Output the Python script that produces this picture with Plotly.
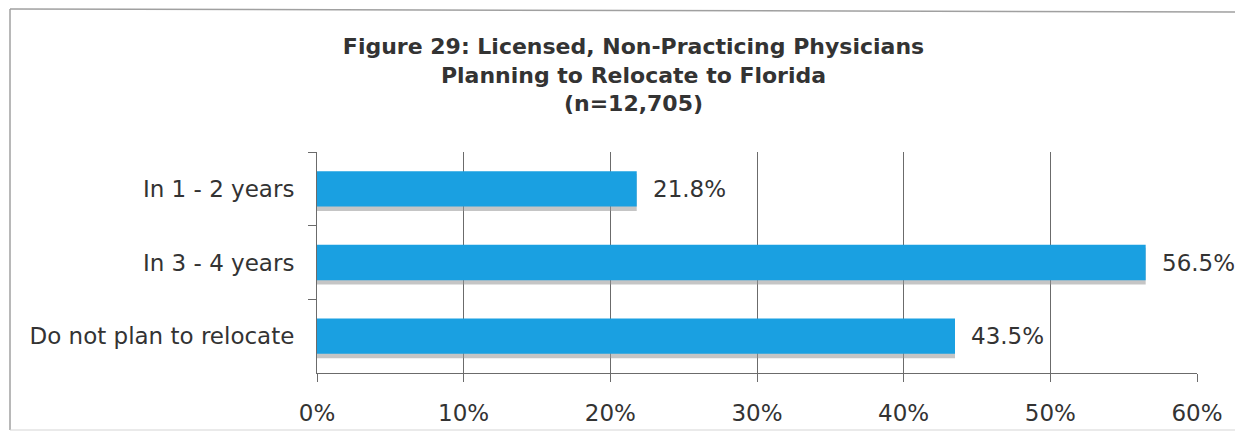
import plotly.graph_objects as go

categories = ["In 1 - 2 years", "In 3 - 4 years", "Do not plan to relocate"]
values = [21.8, 56.5, 43.5]
value_labels = ["21.8%", "56.5%", "43.5%"]
x_tick_vals = [0, 10, 20, 30, 40, 50, 60]
x_tick_text = ["0%", "10%", "20%", "30%", "40%", "50%", "60%"]
title_lines = ["Figure 29: Licensed, Non-Practicing Physicians",
               "Planning to Relocate to Florida", "(n=12,705)"]

BAR = "#1AA0E1"
TXT = "#333333"
GRID = "#6b6b6b"
FONT = "DejaVu Sans, Arial"

# figure area (page body adds an 8px offset; right/bottom overflow is clipped)
W, H = 1243, 425
L, T = 309, 144
PW, PH = 880, 221
R, B = W - L - PW, H - T - PH


def px_x(p):
    return (p - L) / PW


def px_y(p):
    return 1 - (p - T) / PH


fig = go.Figure()
# soft shadow beneath bars
fig.add_trace(go.Bar(
    y=categories, x=values, orientation="h",
    marker=dict(color="rgba(150,150,150,0.55)", line=dict(width=0)),
    width=0.5, offset=-0.2, hoverinfo="skip", showlegend=False,
))
fig.add_trace(go.Bar(
    y=categories, x=values, orientation="h",
    marker=dict(color=BAR, line=dict(width=0)),
    width=0.48, offset=-0.24, showlegend=False,
))

annotations = [
    dict(x=v, y=c, xref="x", yref="y", text=t, showarrow=False,
         xanchor="left", yanchor="middle", xshift=14,
         font=dict(family=FONT, size=23, color=TXT))
    for c, v, t in zip(categories, values, value_labels)
]

border = dict(color="#a0a0a0", width=1.5)
shapes = [
    dict(type="line", xref="paper", yref="paper", x0=px_x(2), x1=px_x(2),
         y0=px_y(422), y1=px_y(1), line=border),
    dict(type="line", xref="paper", yref="paper", x0=px_x(2), x1=px_x(W),
         y0=px_y(1), y1=px_y(4), line=border),
    dict(type="line", xref="paper", yref="paper", x0=px_x(2), x1=px_x(W),
         y0=px_y(422), y1=px_y(422), line=dict(color="#d5d5d5", width=1)),
]

fig.update_layout(
    width=W, height=H,
    margin=dict(l=L, r=R, t=T, b=B, autoexpand=False),
    paper_bgcolor="white", plot_bgcolor="white",
    barmode="overlay",
    title=dict(
        text="<b>" + "<br>".join(title_lines) + "</b>",
        x=(1243 / 2 + 12 - 8) / W, xanchor="center", y=1 - 46 / H, yanchor="top",
        font=dict(family=FONT, size=22, color=TXT),
    ),
    annotations=annotations,
    shapes=shapes,
    xaxis=dict(
        range=[0, 60], tickvals=x_tick_vals, ticktext=x_tick_text,
        showgrid=True, gridcolor=GRID, gridwidth=1,
        showline=True, linecolor=GRID, linewidth=1,
        ticks="outside", ticklen=8, tickcolor=GRID,
        ticklabelstandoff=11, automargin=False,
        tickfont=dict(family=FONT, size=23, color=TXT),
        zeroline=False, fixedrange=True,
    ),
    yaxis=dict(
        autorange="reversed", type="category",
        showline=True, linecolor=GRID, linewidth=1,
        ticks="outside", ticklen=8, tickcolor=GRID, tickson="boundaries",
        ticklabelstandoff=17, automargin=False,
        tickfont=dict(family=FONT, size=23, color=TXT),
        showgrid=False, fixedrange=True,
    ),
)

fig.write_html("out.html")
